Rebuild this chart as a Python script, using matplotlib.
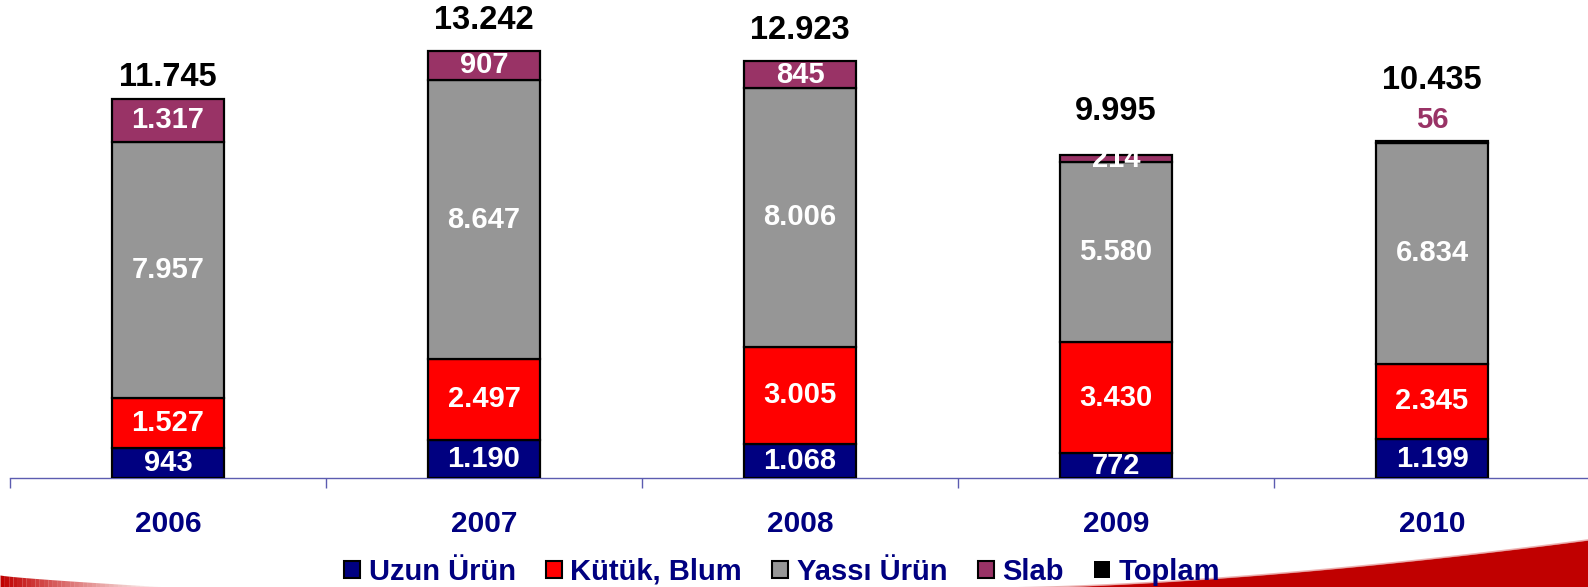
import matplotlib
matplotlib.use("Agg")
import matplotlib.pyplot as plt
from matplotlib.patches import Patch
from matplotlib import font_manager as fm
import numpy as np

years = ["2006", "2007", "2008", "2009", "2010"]
uzun = [943, 1190, 1068, 772, 1199]
kutuk = [1527, 2497, 3005, 3430, 2345]
yassi = [7957, 8647, 8006, 5580, 6834]
slab = [1317, 907, 845, 214, 56]
toplam = [11745, 13242, 12923, 9995, 10435]
uzun_lbl = ["943", "1.190", "1.068", "772", "1.199"]
kutuk_lbl = ["1.527", "2.497", "3.005", "3.430", "2.345"]
yassi_lbl = ["7.957", "8.647", "8.006", "5.580", "6.834"]
slab_lbl = ["1.317", "907", "845", "214", "56"]
toplam_lbl = ["11.745", "13.242", "12.923", "9.995", "10.435"]
series_names = ["Uzun Ürün", "Kütük, Blum", "Yassı Ürün", "Slab", "Toplam"]

colors = ["#000080", "#FF0000", "#969696", "#993366", "#000000"]
NAVY = "#000080"

names = {f.name for f in fm.fontManager.ttflist}
narrow = "Liberation Sans Narrow" if "Liberation Sans Narrow" in names else "Liberation Sans"
plt.rcParams['font.family'] = ['Liberation Sans', 'DejaVu Sans']

W, H = 1588, 587
fig = plt.figure(figsize=(W / 100, H / 100), dpi=100)

# decorative swoosh layer
bg = fig.add_axes([0, 0, 1, 1], zorder=-5)
bg.set_xlim(0, W)
bg.set_ylim(H, 0)
bg.axis("off")
xs = np.linspace(1000, W, 60)
t = (xs - 1000) / (W - 1000)
top = 588 - 48 * t ** 1.6
bg.fill_between(xs, top, H + 2, color="#C00000", lw=0)
bg.plot(xs, top, color="#E08080", lw=1.2, alpha=0.6)
xl = np.linspace(0, 170, 40)
tl = xl / 170
topl = 575 + 12 * tl ** 0.8
for i in range(len(xl) - 1):
    a = max(0.0, 1 - tl[i]) ** 1.2
    bg.fill_between(xl[i:i + 2], topl[i:i + 2], H + 2, color="#C00000", alpha=a, lw=0)

# main axes: baseline at y=478 px, from x=10 to 1590 px
ax_bottom = (H - 478) / H
ax = fig.add_axes([10 / W, ax_bottom, 1580 / W, 1 - ax_bottom])
x = np.arange(len(years))
bw = 0.355
stack = [uzun, kutuk, yassi, slab]
labels = [uzun_lbl, kutuk_lbl, yassi_lbl, slab_lbl]
bottom = np.zeros(len(years))
for vals, col, lbls in zip(stack, colors[:4], labels):
    vals = np.array(vals, dtype=float)
    ax.bar(x, vals, bw, bottom=bottom, color=col, edgecolor="black", linewidth=1.6, zorder=3)
    for i in range(len(x)):
        if col == colors[3] and vals[i] < 100:
            ax.annotate(lbls[i], (x[i], bottom[i] + vals[i]), xytext=(0, 15), textcoords="offset points",
                        ha="center", va="center", color=col, fontsize=21, fontweight="bold", zorder=5)
        else:
            ax.text(x[i], bottom[i] + vals[i] / 2, lbls[i], ha="center", va="center", color="white",
                    fontsize=21, fontweight="bold", zorder=5)
    bottom += vals

tot_offset_px = [22, 30, 30, 44, 61]
for i in range(len(x)):
    ax.annotate(toplam_lbl[i], (x[i], bottom[i]), xytext=(0, tot_offset_px[i] * 0.72),
                textcoords="offset points", ha="center", va="center", color="black",
                fontsize=23.5, fontweight="bold", zorder=5)

ax.set_xlim(-0.5, len(years) - 0.5)
ax.set_ylim(0, 478 / (379 / 11745))
for s in ["top", "right", "left"]:
    ax.spines[s].set_visible(False)
ax.spines["bottom"].set_color("#5C5CB0")
ax.spines["bottom"].set_linewidth(1.0)
ax.set_yticks([])
ax.set_xticks(x)
ax.set_xticklabels(years, fontsize=21.5, fontweight="bold", color=NAVY)
ax.tick_params(axis="x", which="major", length=0, pad=23)
ax.set_xticks(np.arange(-0.5, len(years), 1.0), minor=True)
ax.tick_params(axis="x", which="minor", length=7, width=1.0, color="#5C5CB0", direction="out")
ax.patch.set_alpha(0)

handles = [Patch(facecolor=c, edgecolor="black" if c != "#000000" else "none", linewidth=1.5) for c in colors]
leg = fig.legend(handles, series_names, loc="center", bbox_to_anchor=(782 / W, (H - 572) / H),
                 ncol=5, frameon=False, handlelength=0.55, handleheight=0.55, handletextpad=0.3,
                 columnspacing=1.03, prop={"family": narrow, "weight": "bold", "size": 21})
for txt in leg.get_texts():
    txt.set_color(NAVY)

fig.savefig("out.png", dpi=100)
